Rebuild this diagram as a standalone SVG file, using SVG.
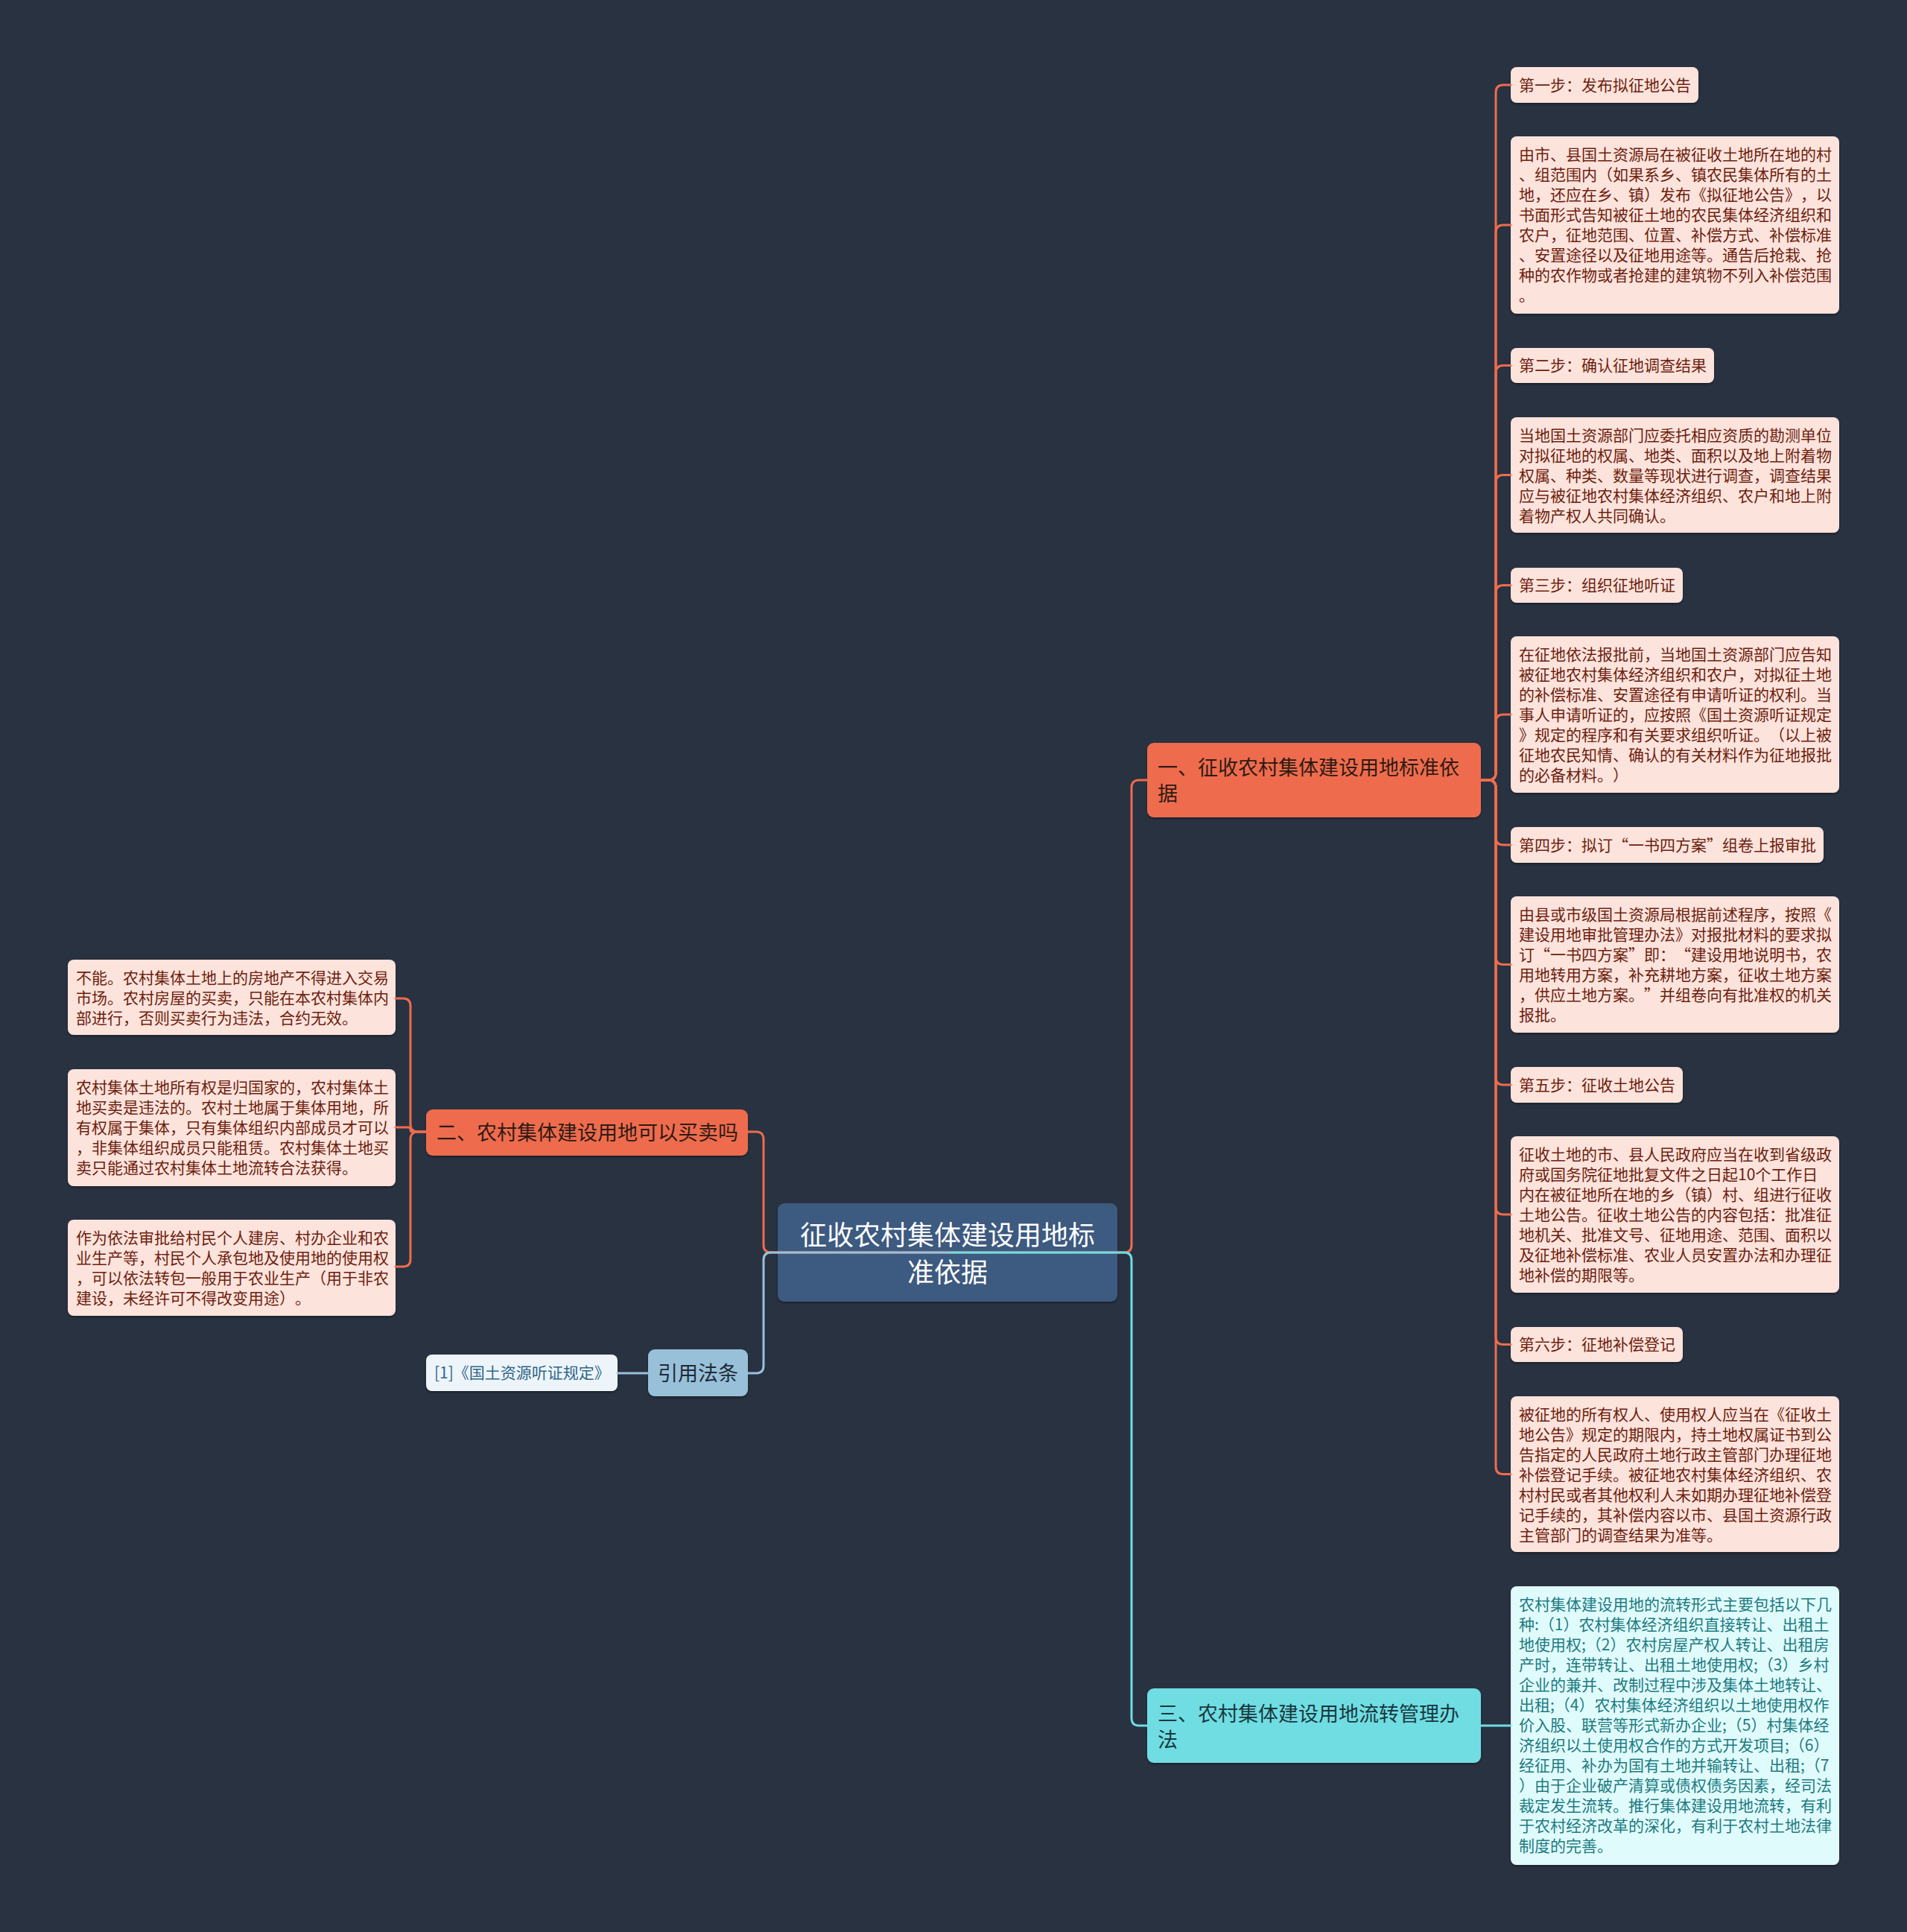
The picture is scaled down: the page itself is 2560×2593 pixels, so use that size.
<svg xmlns="http://www.w3.org/2000/svg" width="2560" height="2593" viewBox="0 0 2560 2593">
<defs>
<filter id="sh" x="-5%" y="-10%" width="110%" height="130%">
<feDropShadow dx="0" dy="2" stdDeviation="1.5" flood-color="#000" flood-opacity="0.35"/>
</filter>
<style>
text{font-family:"Noto Sans CJK SC","Noto Sans",sans-serif;text-spacing-trim:space-all;}
.pk{fill:#fce3dc;filter:url(#sh);}
.pt{font-size:21px;fill:#6e1e0e;}
.or{fill:#ee6c4d;filter:url(#sh);}
.ot{font-size:27px;fill:#2e1a14;}
.cy{fill:#6fdde3;filter:url(#sh);}
.ct{font-size:27px;fill:#18383d;}
.lc{fill:#e0fbfc;filter:url(#sh);}
.lt{font-size:21px;fill:#1d7b82;}
.c{fill:none;stroke-width:3;stroke-linecap:round;}
.co{stroke:#ee6c4d;}
.cc{stroke:#6fdde3;}
.cb{stroke:#98c1d9;}
</style>
</defs>
<rect width="2560" height="2593" fill="#293241"/>

<g id="root">
<rect x="1044" y="1615" width="456" height="132" rx="9" fill="#3d5a80" filter="url(#sh)"/>
<text x="1272" y="1671" font-size="36" fill="#ffffff" text-anchor="middle">征收农村集体建设用地标</text>
<text x="1272" y="1721" font-size="36" fill="#ffffff" text-anchor="middle">准依据</text>
</g>

<g id="n1">
<rect class="or" x="1540" y="997" width="448" height="100" rx="9"/>
<text class="ot" x="1554" y="1040">一、征收农村集体建设用地标准依</text>
<text class="ot" x="1554" y="1075">据</text>
</g>

<g id="n1s1">
<rect class="pk" x="2028" y="90" width="252" height="48" rx="8"/>
<text class="pt" x="2039" y="122">第一步：发布拟征地公告</text>
</g>
<g id="n1t1">
<rect class="pk" x="2028" y="183" width="441" height="238" rx="8"/>
<text class="pt" x="2039" y="215">由市、县国土资源局在被征收土地所在地的村</text>
<text class="pt" x="2039" y="242">、组范围内（如果系乡、镇农民集体所有的土</text>
<text class="pt" x="2039" y="269">地，还应在乡、镇）发布《拟征地公告》，以</text>
<text class="pt" x="2039" y="296">书面形式告知被征土地的农民集体经济组织和</text>
<text class="pt" x="2039" y="323">农户，征地范围、位置、补偿方式、补偿标准</text>
<text class="pt" x="2039" y="350">、安置途径以及征地用途等。通告后抢栽、抢</text>
<text class="pt" x="2039" y="377">种的农作物或者抢建的建筑物不列入补偿范围</text>
<text class="pt" x="2039" y="404">。</text>
</g>
<g id="n1s2">
<rect class="pk" x="2028" y="467" width="273" height="47" rx="8"/>
<text class="pt" x="2039" y="498">第二步：确认征地调查结果</text>
</g>
<g id="n1t2">
<rect class="pk" x="2028" y="560" width="441" height="155" rx="8"/>
<text class="pt" x="2039" y="592">当地国土资源部门应委托相应资质的勘测单位</text>
<text class="pt" x="2039" y="619">对拟征地的权属、地类、面积以及地上附着物</text>
<text class="pt" x="2039" y="646">权属、种类、数量等现状进行调查，调查结果</text>
<text class="pt" x="2039" y="673">应与被征地农村集体经济组织、农户和地上附</text>
<text class="pt" x="2039" y="700">着物产权人共同确认。</text>
</g>
<g id="n1s3">
<rect class="pk" x="2028" y="762" width="231" height="47" rx="8"/>
<text class="pt" x="2039" y="793">第三步：组织征地听证</text>
</g>
<g id="n1t3">
<rect class="pk" x="2028" y="854" width="441" height="210" rx="8"/>
<text class="pt" x="2039" y="886">在征地依法报批前，当地国土资源部门应告知</text>
<text class="pt" x="2039" y="913">被征地农村集体经济组织和农户，对拟征土地</text>
<text class="pt" x="2039" y="940">的补偿标准、安置途径有申请听证的权利。当</text>
<text class="pt" x="2039" y="967">事人申请听证的，应按照《国土资源听证规定</text>
<text class="pt" x="2039" y="994" textLength="420" lengthAdjust="spacing">》规定的程序和有关要求组织听证。（以上被</text>
<text class="pt" x="2039" y="1021">征地农民知情、确认的有关材料作为征地报批</text>
<text class="pt" x="2039" y="1048">的必备材料。）</text>
</g>
<g id="n1s4">
<rect class="pk" x="2028" y="1110" width="420" height="48" rx="8"/>
<text class="pt" x="2039" y="1142" textLength="399" lengthAdjust="spacing">第四步：拟订“一书四方案”组卷上报审批</text>
</g>
<g id="n1t4">
<rect class="pk" x="2028" y="1203" width="441" height="183" rx="8"/>
<text class="pt" x="2039" y="1235">由县或市级国土资源局根据前述程序，按照《</text>
<text class="pt" x="2039" y="1262">建设用地审批管理办法》对报批材料的要求拟</text>
<text class="pt" x="2039" y="1289" textLength="420" lengthAdjust="spacing">订“一书四方案”即：“建设用地说明书，农</text>
<text class="pt" x="2039" y="1316">用地转用方案，补充耕地方案，征收土地方案</text>
<text class="pt" x="2039" y="1343" textLength="420" lengthAdjust="spacing">，供应土地方案。”并组卷向有批准权的机关</text>
<text class="pt" x="2039" y="1370">报批。</text>
</g>
<g id="n1s5">
<rect class="pk" x="2028" y="1432" width="231" height="48" rx="8"/>
<text class="pt" x="2039" y="1464">第五步：征收土地公告</text>
</g>
<g id="n1t5">
<rect class="pk" x="2028" y="1525" width="441" height="210" rx="8"/>
<text class="pt" x="2039" y="1557">征收土地的市、县人民政府应当在收到省级政</text>
<text class="pt" x="2039" y="1584">府或国务院征地批复文件之日起10个工作日</text>
<text class="pt" x="2039" y="1611">内在被征地所在地的乡（镇）村、组进行征收</text>
<text class="pt" x="2039" y="1638">土地公告。征收土地公告的内容包括：批准征</text>
<text class="pt" x="2039" y="1665">地机关、批准文号、征地用途、范围、面积以</text>
<text class="pt" x="2039" y="1692">及征地补偿标准、农业人员安置办法和办理征</text>
<text class="pt" x="2039" y="1719">地补偿的期限等。</text>
</g>
<g id="n1s6">
<rect class="pk" x="2028" y="1781" width="231" height="47" rx="8"/>
<text class="pt" x="2039" y="1812">第六步：征地补偿登记</text>
</g>
<g id="n1t6">
<rect class="pk" x="2028" y="1874" width="441" height="209" rx="8"/>
<text class="pt" x="2039" y="1906">被征地的所有权人、使用权人应当在《征收土</text>
<text class="pt" x="2039" y="1933">地公告》规定的期限内，持土地权属证书到公</text>
<text class="pt" x="2039" y="1960">告指定的人民政府土地行政主管部门办理征地</text>
<text class="pt" x="2039" y="1987">补偿登记手续。被征地农村集体经济组织、农</text>
<text class="pt" x="2039" y="2014">村村民或者其他权利人未如期办理征地补偿登</text>
<text class="pt" x="2039" y="2041">记手续的，其补偿内容以市、县国土资源行政</text>
<text class="pt" x="2039" y="2068">主管部门的调查结果为准等。</text>
</g>

<g id="n2">
<rect class="or" x="572" y="1489" width="432" height="62" rx="9"/>
<text class="ot" x="586" y="1530">二、农村集体建设用地可以买卖吗</text>
</g>
<g id="n2t1">
<rect class="pk" x="91" y="1288" width="440" height="101" rx="8"/>
<text class="pt" x="102" y="1320">不能。农村集体土地上的房地产不得进入交易</text>
<text class="pt" x="102" y="1347">市场。农村房屋的买卖，只能在本农村集体内</text>
<text class="pt" x="102" y="1374">部进行，否则买卖行为违法，合约无效。</text>
</g>
<g id="n2t2">
<rect class="pk" x="91" y="1435" width="440" height="157" rx="8"/>
<text class="pt" x="102" y="1467">农村集体土地所有权是归国家的，农村集体土</text>
<text class="pt" x="102" y="1494">地买卖是违法的。农村土地属于集体用地，所</text>
<text class="pt" x="102" y="1521">有权属于集体，只有集体组织内部成员才可以</text>
<text class="pt" x="102" y="1548">，非集体组织成员只能租赁。农村集体土地买</text>
<text class="pt" x="102" y="1575">卖只能通过农村集体土地流转合法获得。</text>
</g>
<g id="n2t3">
<rect class="pk" x="91" y="1637" width="440" height="129" rx="8"/>
<text class="pt" x="102" y="1669">作为依法审批给村民个人建房、村办企业和农</text>
<text class="pt" x="102" y="1696">业生产等，村民个人承包地及使用地的使用权</text>
<text class="pt" x="102" y="1723">，可以依法转包一般用于农业生产（用于非农</text>
<text class="pt" x="102" y="1750">建设，未经许可不得改变用途）。</text>
</g>

<g id="n3">
<rect class="cy" x="1540" y="2266" width="448" height="100" rx="9"/>
<text class="ct" x="1554" y="2310">三、农村集体建设用地流转管理办</text>
<text class="ct" x="1554" y="2345">法</text>
</g>
<g id="n3t1">
<rect class="lc" x="2028" y="2129" width="441" height="374" rx="8"/>
<text class="lt" x="2039" y="2161">农村集体建设用地的流转形式主要包括以下几</text>
<text class="lt" x="2039" y="2188">种:（1）农村集体经济组织直接转让、出租土</text>
<text class="lt" x="2039" y="2215">地使用权;（2）农村房屋产权人转让、出租房</text>
<text class="lt" x="2039" y="2242">产时，连带转让、出租土地使用权;（3）乡村</text>
<text class="lt" x="2039" y="2269">企业的兼并、改制过程中涉及集体土地转让、</text>
<text class="lt" x="2039" y="2296">出租;（4）农村集体经济组织以土地使用权作</text>
<text class="lt" x="2039" y="2323">价入股、联营等形式新办企业;（5）村集体经</text>
<text class="lt" x="2039" y="2350">济组织以土使用权合作的方式开发项目;（6）</text>
<text class="lt" x="2039" y="2377">经征用、补办为国有土地并输转让、出租;（7</text>
<text class="lt" x="2039" y="2404">）由于企业破产清算或债权债务因素，经司法</text>
<text class="lt" x="2039" y="2431">裁定发生流转。推行集体建设用地流转，有利</text>
<text class="lt" x="2039" y="2458">于农村经济改革的深化，有利于农村土地法律</text>
<text class="lt" x="2039" y="2485">制度的完善。</text>
</g>

<g id="n4">
<rect x="870" y="1811" width="134" height="63" rx="9" fill="#98c1d9" filter="url(#sh)"/>
<text x="937" y="1853" font-size="27" fill="#1e2a38" text-anchor="middle">引用法条</text>
</g>
<g id="n4t1">
<rect x="572" y="1818" width="257" height="49" rx="8" fill="#edf5fa" filter="url(#sh)"/>
<text x="583" y="1850" font-size="21" fill="#2f6688">[1]《国土资源听证规定》</text>
</g>

<g id="connectors">
<path class="c co" d="M1272 1681 H1509 Q1519 1681 1519 1671 V1057 Q1519 1047 1529 1047 H1540"/>
<path class="c cc" d="M1272 1681 H1509 Q1519 1681 1519 1691 V2306 Q1519 2316 1529 2316 H1540"/>
<path class="c co" d="M1272 1681 H1035 Q1025 1681 1025 1671 V1529 Q1025 1519 1015 1519 H1004"/>
<path class="c cb" d="M1272 1681 H1035 Q1025 1681 1025 1691 V1833 Q1025 1843 1015 1843 H1004"/>
<path class="c cb" d="M870 1843 H829"/>
<path class="c cc" d="M1988 2316 H2028"/>
<path class="c co" d="M1988 1047 H1998 Q2008 1047 2008 1037 V124 Q2008 114 2018 114 H2028"/>
<path class="c co" d="M1988 1047 H1998 Q2008 1047 2008 1037 V312 Q2008 302 2018 302 H2028"/>
<path class="c co" d="M1988 1047 H1998 Q2008 1047 2008 1037 V500.5 Q2008 490.5 2018 490.5 H2028"/>
<path class="c co" d="M1988 1047 H1998 Q2008 1047 2008 1037 V647.5 Q2008 637.5 2018 637.5 H2028"/>
<path class="c co" d="M1988 1047 H1998 Q2008 1047 2008 1037 V795.5 Q2008 785.5 2018 785.5 H2028"/>
<path class="c co" d="M1988 1047 H1998 Q2008 1047 2008 1037 V969 Q2008 959 2018 959 H2028"/>
<path class="c co" d="M1988 1047 H1998 Q2008 1047 2008 1057 V1124 Q2008 1134 2018 1134 H2028"/>
<path class="c co" d="M1988 1047 H1998 Q2008 1047 2008 1057 V1284.5 Q2008 1294.5 2018 1294.5 H2028"/>
<path class="c co" d="M1988 1047 H1998 Q2008 1047 2008 1057 V1446 Q2008 1456 2018 1456 H2028"/>
<path class="c co" d="M1988 1047 H1998 Q2008 1047 2008 1057 V1620 Q2008 1630 2018 1630 H2028"/>
<path class="c co" d="M1988 1047 H1998 Q2008 1047 2008 1057 V1794.5 Q2008 1804.5 2018 1804.5 H2028"/>
<path class="c co" d="M1988 1047 H1998 Q2008 1047 2008 1057 V1968.5 Q2008 1978.5 2018 1978.5 H2028"/>
<path class="c co" d="M572 1519 H561 Q551 1519 551 1509 V1350 Q551 1340 541 1340 H531"/>
<path class="c co" d="M572 1519 H554 Q551 1519 551 1516 Q551 1513 548 1513 H531"/>
<path class="c co" d="M572 1519 H561 Q551 1519 551 1529 V1690 Q551 1700 541 1700 H531"/>
</g>
</svg>
